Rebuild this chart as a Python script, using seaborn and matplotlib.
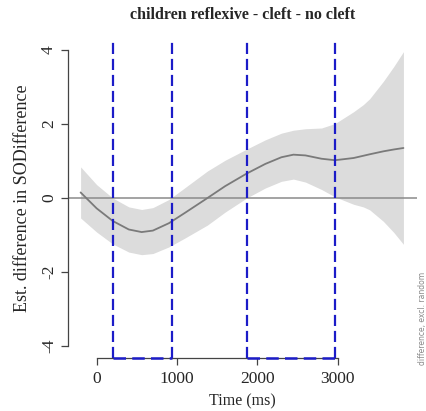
import numpy as np
import pandas as pd
import matplotlib
matplotlib.use("Agg")
import matplotlib.pyplot as plt
import seaborn as sns

# ---- data ----
time_ms = [-200, 0, 200, 400, 560, 700, 900, 1100, 1380, 1600, 1868, 2100,
           2300, 2450, 2600, 2800, 2968, 3200, 3320, 3400, 3570, 3700, 3820]
est_diff = [0.15, -0.28, -0.62, -0.85, -0.92, -0.88, -0.68, -0.40, 0.00, 0.32,
            0.66, 0.92, 1.10, 1.17, 1.15, 1.06, 1.02, 1.08, 1.14, 1.18, 1.26, 1.31, 1.35]
ci_half = [0.69, 0.64, 0.62, 0.61, 0.61, 0.62, 0.64, 0.68, 0.73, 0.70,
           0.66, 0.65, 0.65, 0.66, 0.72, 0.83, 0.99, 1.25, 1.38, 1.50, 1.89, 2.24, 2.60]
sig_start = [207, 1868]
sig_end = [934, 2968]
x_ticks = [0, 1000, 2000, 3000]
y_ticks = [-4, -2, 0, 2, 4]
title = "children reflexive - cleft - no cleft"
x_label = "Time (ms)"
y_label = "Est. difference in SODifference"
side_note = "difference, excl. random"

df = pd.DataFrame({"time": time_ms, "est": est_diff, "hw": ci_half})
df["lo"] = df["est"] - df["hw"]
df["hi"] = df["est"] + df["hw"]

sns.set_style("white")
plt.rcParams["font.family"] = ["Liberation Serif", "DejaVu Serif"]

W, H = 427, 411
fig = plt.figure(figsize=(W / 100, H / 100), dpi=100)
ax = fig.add_axes([68 / W, (H - 358) / H, (417 - 68) / W, (358 - 38) / H])

ax.fill_between(df["time"], df["lo"], df["hi"], color="#dcdcdc", linewidth=0, zorder=1)
sns.lineplot(data=df, x="time", y="est", ax=ax, color="#7a7a7a", linewidth=1.3,
             zorder=3, sort=False)
ax.axhline(0, color="#8a8a8a", linewidth=1.1, zorder=2)

blue = "#1c1cc8"
for s, e in zip(sig_start, sig_end):
    for v in (s, e):
        ax.axvline(v, color=blue, linewidth=1.6, dashes=(5, 2.2), zorder=4)
    ax.plot([s, e], [-4.32, -4.32], color=blue, linewidth=1.8, dashes=(5, 2.5),
            clip_on=False, zorder=5)

ax.set_xlim(-357, 3989)
ax.set_ylim(-4.32, 4.32)

for side in ("top", "right"):
    ax.spines[side].set_visible(False)
ax.spines["left"].set_bounds(-4, 4)
ax.spines["bottom"].set_bounds(0, 3000)
for side in ("left", "bottom"):
    ax.spines[side].set_color("#444444")
    ax.spines[side].set_linewidth(0.9)

ax.set_xticks(x_ticks)
ax.set_yticks(y_ticks)
ax.set_xticklabels([str(t) for t in x_ticks])
ax.set_yticklabels([str(t) for t in y_ticks], rotation=90, va="center")
ax.tick_params(axis="both", direction="out", length=5, width=0.9, color="#444444",
               labelsize=12.5, left=True, bottom=True)
ax.tick_params(axis="y", pad=3)
ax.tick_params(axis="x", pad=4)

ax.set_xlabel(x_label, fontsize=11.5, labelpad=5)
ax.set_ylabel(y_label, fontsize=13, labelpad=7)

fig.text(242.5 / W, 1 - 15 / H, title, ha="center", va="center",
         fontsize=11.5, fontweight="bold")

fig.text(423 / W, 1 - 318 / H, side_note, rotation=90, ha="center", va="center",
         fontsize=5.5, color="#888888", family=["DejaVu Sans"])

fig.savefig("out.png", dpi=100)
